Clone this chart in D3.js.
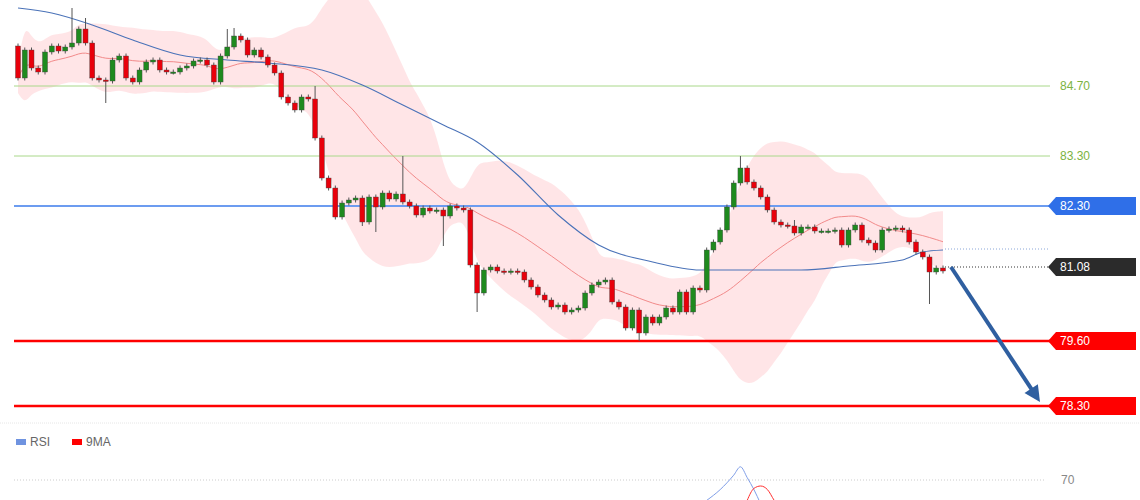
<!DOCTYPE html>
<html><head><meta charset="utf-8">
<script src="https://cdn.jsdelivr.net/npm/d3@7"></script>
<style>body{margin:0;background:#fff;font-family:Arial,"Liberation Sans",sans-serif}</style>
</head><body><svg id="c" width="1140" height="500"></svg>
<script>
const firstOpen = 85.50;
const closes = [84.86,85.42,85.06,84.98,85.38,85.50,85.40,85.48,85.56,85.84,
85.56,84.86,84.82,84.80,85.22,85.30,84.86,84.78,85.02,85.18,
85.22,85.02,84.98,84.98,85.06,85.10,85.20,85.22,85.12,84.78,
85.30,85.48,85.70,85.62,85.32,85.42,85.28,85.12,84.96,84.48,
84.36,84.22,84.48,84.44,83.66,82.86,82.66,82.08,82.36,82.42,
82.46,81.98,82.48,82.28,82.56,82.44,82.54,82.38,82.30,82.12,
82.26,82.20,82.22,82.10,82.30,82.26,82.22,
81.12,80.56,81.02,81.08,81.00,80.98,81.00,80.98,80.82,80.68,
80.52,80.42,80.28,80.32,80.18,80.22,80.26,80.56,80.72,80.78,
80.82,80.38,80.28,79.86,80.22,79.76,80.08,79.96,80.08,80.26,
80.18,80.58,80.18,80.66,80.62,81.42,81.58,81.82,82.28,82.76,
83.06,82.78,82.66,82.48,82.22,81.98,81.92,81.90,81.76,81.88,
81.88,81.80,81.80,81.80,81.82,81.52,81.82,81.92,81.62,81.56,
81.42,81.82,81.84,81.86,81.82,81.58,81.38,81.28,80.98,81.06,81.00];
// notable wicks: [candle index, high, low]
const wicks = [[8,86.26,null],[10,86.06,null],[13,null,84.36],[31,85.84,null],[32,85.86,null],
[44,84.70,null],[53,null,81.78],[57,83.30,null],[63,null,81.50],[68,null,80.18],
[92,null,79.60],[107,83.30,null],[135,null,80.34],[51,null,81.90],[115,82.02,null]];
const blueIdx = [0,5,11,17,24,31,37,45,51,57,63,68,74,80,86,94,101,108,116,123,131,134,137];
const blueVal = [86.26,86.16,85.92,85.62,85.32,85.22,85.16,85.02,84.72,84.32,83.92,83.58,82.92,82.12,81.52,81.18,81.02,81.02,81.02,81.10,81.22,81.38,81.42];
const levels = [{v:84.70,t:"84.70",k:"g"},{v:83.30,t:"83.30",k:"g"},{v:82.30,t:"82.30",k:"b"},{v:79.60,t:"79.60",k:"r"},{v:78.30,t:"78.30",k:"r"}];
const lastPrice = 81.08, target = 78.30;
const rsiIdx = [102,104,106,107,108,109,110];
const rsiVal = [53,62,74,81,72,62,50];
const maIdx = [108,109,110,111,112,113];
const maVal = [53,63,65,62,53,45];

const svg = d3.select("#c");
const N = closes.length;
const x = d3.scaleLinear().domain([0,N-1]).range([18,943]);
const y = d3.scaleLinear().domain([84.70,83.30]).range([86,156]);
const ry = d3.scaleLinear().domain([70,80]).range([480,468]);

const data = closes.map((c,i)=>{const o=i?closes[i-1]:firstOpen;return {i,o,c,h:Math.max(o,c)+0.05,l:Math.min(o,c)-0.05};});
wicks.forEach(([i,h,l])=>{if(h!=null)data[i].h=h;if(l!=null)data[i].l=l;});

// bollinger
const P=20, bb=[];
for(let i=0;i<N;i++){const w=closes.slice(Math.max(0,i-P+1),i+1);const m=d3.mean(w),s=d3.deviation(w)||0.15;bb.push({i,m,u:m+2*Math.max(s,0.15),d:m-2*Math.max(s,0.15)});}
svg.append("path").datum(bb).attr("fill","rgba(255,170,175,0.3)")
 .attr("d",d3.area().x(d=>x(d.i)).y0(d=>y(d.d)).y1(d=>y(d.u)).curve(d3.curveBasis));
svg.append("path").datum(bb).attr("fill","none").attr("stroke","#f28a8a").attr("stroke-width",1)
 .attr("d",d3.line().x(d=>x(d.i)).y(d=>y(d.m)).curve(d3.curveBasis));

// levels
const col={g:"#a9d88a",b:"#6c9cf0",r:"#ff0000"};
const lab={b:"#2f6fe8",r:"#ff0000"};
levels.forEach(L=>{
  svg.append("line").attr("x1",14).attr("x2",1050).attr("y1",y(L.v)).attr("y2",y(L.v))
   .attr("stroke",col[L.k]).attr("stroke-width",L.k=="g"?1:(L.k=="b"?2:2.5));
  if(L.k=="g"){svg.append("text").attr("x",1060).attr("y",y(L.v)+4).attr("fill","#7cb342").attr("font-size",12).text(L.t);}
  else{const yy=y(L.v);svg.append("path").attr("d",`M1048,${yy} L1056,${yy-9} L1136,${yy-9} L1136,${yy+9} L1056,${yy+9}Z`).attr("fill",lab[L.k]);
   svg.append("text").attr("x",1060).attr("y",yy+4).attr("fill","#fff").attr("font-size",12).text(L.t);}
});
// last price
{const yy=y(lastPrice);
svg.append("line").attr("x1",945).attr("x2",1050).attr("y1",yy).attr("y2",yy).attr("stroke","#333").attr("stroke-dasharray","1,2");
svg.append("line").attr("x1",945).attr("x2",1050).attr("y1",y(81.44)).attr("y2",y(81.44)).attr("stroke","#8aa6d8").attr("stroke-dasharray","1,2");
svg.append("path").attr("d",`M1048,${yy} L1056,${yy-9} L1136,${yy-9} L1136,${yy+9} L1056,${yy+9}Z`).attr("fill","#2b2b2b");
svg.append("text").attr("x",1060).attr("y",yy+4).attr("fill","#fff").attr("font-size",12).text(lastPrice.toFixed(2));}

// blue MA
svg.append("path").datum(blueIdx.map((d,k)=>[d,blueVal[k]])).attr("fill","none").attr("stroke","#4a72b8").attr("stroke-width",1.1)
 .attr("d",d3.line().x(d=>x(d[0])).y(d=>y(d[1])).curve(d3.curveMonotoneX));

// candles
const g=svg.append("g");
g.selectAll("line.w").data(data).join("line").attr("x1",d=>x(d.i)).attr("x2",d=>x(d.i)).attr("y1",d=>y(d.h)).attr("y2",d=>y(d.l)).attr("stroke","#555").attr("stroke-width",1);
g.selectAll("rect").data(data).join("rect").attr("x",d=>x(d.i)-2.5).attr("width",5)
 .attr("y",d=>y(Math.max(d.o,d.c))).attr("height",d=>Math.max(1.5,Math.abs(y(d.o)-y(d.c))))
 .attr("fill",d=>d.c>=d.o?"#1e8a1e":"#e8000b").attr("stroke","#444").attr("stroke-width",0.4);

// arrow
const ax1=x(N-1)+8, ay1=y(lastPrice), ax2=1040, ay2=y(target)-4;
const ang=Math.atan2(ay2-ay1,ax2-ax1);
svg.append("line").attr("x1",ax1).attr("y1",ay1).attr("x2",ax2-10*Math.cos(ang)).attr("y2",ay2-10*Math.sin(ang)).attr("stroke","#2f5fa0").attr("stroke-width",4);
const hx=ax2,hy=ay2,bx=ax2-16*Math.cos(ang),by=ay2-16*Math.sin(ang),px=-Math.sin(ang)*8,py=Math.cos(ang)*8;
svg.append("path").attr("d",`M${hx},${hy} L${bx+px},${by+py} L${bx-px},${by-py}Z`).attr("fill","#2f5fa0");

// RSI panel
svg.append("line").attr("x1",0).attr("x2",1140).attr("y1",423).attr("y2",423).attr("stroke","#e6e6e6").attr("stroke-dasharray","1,1");
svg.append("rect").attr("x",16).attr("y",439).attr("width",10).attr("height",6).attr("fill","#6f93e0");
svg.append("text").attr("x",30).attr("y",446).attr("font-size",12).attr("fill","#666").text("RSI");
svg.append("rect").attr("x",72).attr("y",439).attr("width",10).attr("height",6).attr("fill","#ff0000");
svg.append("text").attr("x",86).attr("y",446).attr("font-size",12).attr("fill","#666").text("9MA");
svg.append("line").attr("x1",14).attr("x2",1045).attr("y1",ry(70)).attr("y2",ry(70)).attr("stroke","#ccc").attr("stroke-dasharray","1,2");
svg.append("text").attr("x",1061).attr("y",ry(70)+4).attr("font-size",12).attr("fill","#888").text("70");
svg.append("path").datum(rsiIdx.map((d,k)=>[d,rsiVal[k]])).attr("fill","none").attr("stroke","#7f9ee8").attr("d",d3.line().x(d=>x(d[0])).y(d=>ry(d[1])).curve(d3.curveMonotoneX));
svg.append("path").datum(maIdx.map((d,k)=>[d,maVal[k]])).attr("fill","none").attr("stroke","#ff3030").attr("d",d3.line().x(d=>x(d[0])).y(d=>ry(d[1])).curve(d3.curveMonotoneX));
</script></body></html>
